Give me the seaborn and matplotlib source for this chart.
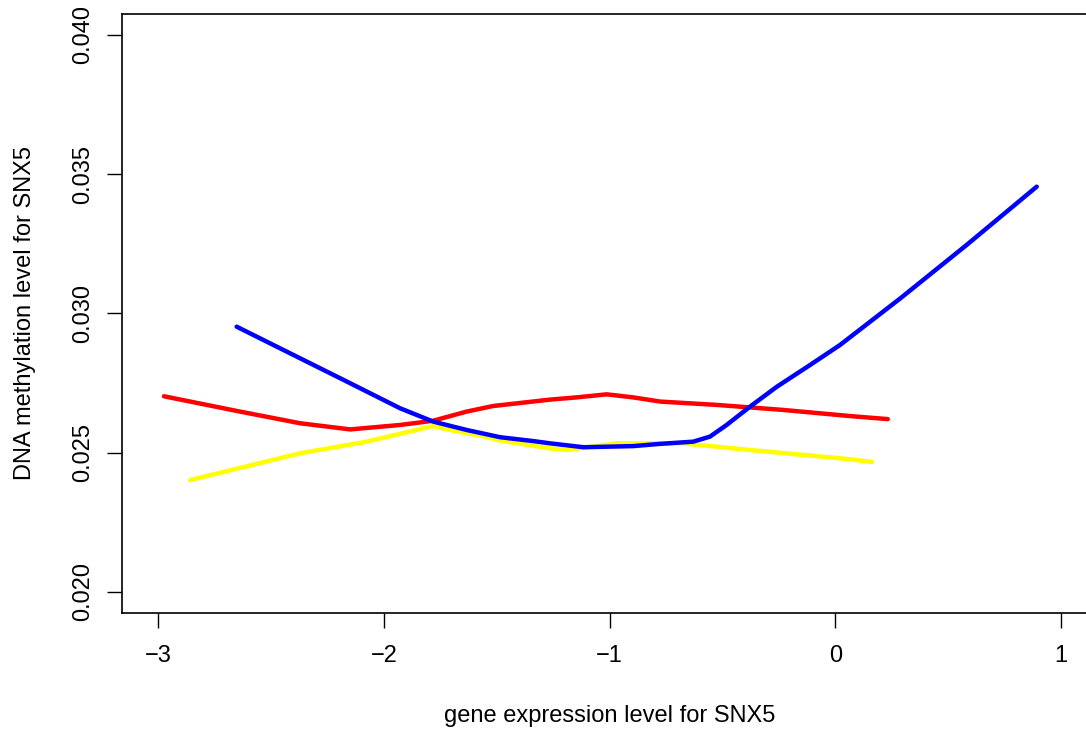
import numpy as np
import pandas as pd
import matplotlib
matplotlib.use("Agg")
import matplotlib.pyplot as plt
import seaborn as sns

# ---- data ----
yellow_x = [-2.859, -2.373, -2.077, -1.782, -1.707, -1.560, -1.486, -1.265, -1.190, -0.969, -0.675, -0.379, 0.064, 0.162]
yellow_y = [0.02401, 0.02497, 0.02539, 0.02595, 0.02581, 0.02558, 0.02543, 0.02515, 0.02509, 0.02533, 0.02533, 0.02509, 0.02476, 0.02466]

red_x = [-2.975, -2.638, -2.371, -2.150, -1.928, -1.783, -1.634, -1.517, -1.265, -1.147, -1.013, -0.896, -0.776, -0.526, -0.232, 0.064, 0.232]
red_y = [0.02702, 0.02647, 0.02605, 0.02583, 0.02599, 0.02614, 0.02647, 0.02667, 0.02690, 0.02698, 0.02709, 0.02698, 0.02683, 0.02671, 0.02653, 0.02631, 0.02620]

blue_x = [-2.653, -2.180, -1.929, -1.782, -1.634, -1.486, -1.338, -1.265, -1.117, -0.896, -0.778, -0.630, -0.556, -0.482, -0.378, -0.260, -0.113, 0.020, 0.288, 0.582, 0.892]
blue_y = [0.02952, 0.02761, 0.02659, 0.02611, 0.02581, 0.02555, 0.02541, 0.02533, 0.02519, 0.02523, 0.02531, 0.02539, 0.02557, 0.02599, 0.02665, 0.02736, 0.02814, 0.02886, 0.03054, 0.03246, 0.03455]

series_names = ["yellow", "red", "blue"]
series_colors = ["#FFFF00", "#FF0000", "#0000FF"]

x_ticks = [-3, -2, -1, 0, 1]
x_ticklabels = ["\u22123", "\u22122", "\u22121", "0", "1"]
y_ticks = [0.020, 0.025, 0.030, 0.035, 0.040]
y_ticklabels = ["0.020", "0.025", "0.030", "0.035", "0.040"]

x_label = "gene expression level for SNX5"
y_label = "DNA methylation level for SNX5"

# ---- build table ----
frames = []
for name, xs, ys in zip(series_names, [yellow_x, red_x, blue_x], [yellow_y, red_y, blue_y]):
    frames.append(pd.DataFrame({"x": xs, "y": ys, "group": name}))
df = pd.concat(frames, ignore_index=True)

sns.set_style("white")
plt.rcParams['font.family'] = ['Liberation Sans', 'DejaVu Sans']
plt.rcParams['text.color'] = 'black'
plt.rcParams['axes.labelcolor'] = 'black'
plt.rcParams['xtick.color'] = 'black'
plt.rcParams['ytick.color'] = 'black'

W, H = 1086, 731
fig = plt.figure(figsize=(W / 100, H / 100), dpi=100)
left_px, right_px, top_px, bottom_px = 122, 1097, 13.5, 613
ax = fig.add_axes([left_px / W, (H - bottom_px) / H, (right_px - left_px) / W, (bottom_px - top_px) / H])

sns.lineplot(data=df, x="x", y="y", hue="group", hue_order=series_names,
             palette=dict(zip(series_names, series_colors)), units="group",
             estimator=None, sort=False, linewidth=3.2, legend=False, ax=ax,
             solid_capstyle="round", solid_joinstyle="round")

ax.set_xlim(-3.161, 1.159)
ax.set_ylim(0.019235, 0.04077)

ax.set_xticks(x_ticks)
ax.set_xticklabels(x_ticklabels)
ax.set_yticks(y_ticks)
ax.set_yticklabels(y_ticklabels, rotation=90, va="center")

ax.tick_params(axis="both", direction="out", length=10.5, width=1.0, colors="black",
               labelsize=17, bottom=True, left=True)
ax.tick_params(axis="x", pad=12.5)
ax.tick_params(axis="y", pad=9.5)

for s in ax.spines.values():
    s.set_color("black")
    s.set_linewidth(1.2)

ax.set_xlabel(x_label, fontsize=17, color="black")
ax.set_ylabel(y_label, fontsize=17, color="black")
ax.xaxis.set_label_coords(0.5, -0.153)
ax.yaxis.set_label_coords(-0.0887, 0.5)

fig.savefig("out.png", dpi=100, facecolor="white")
